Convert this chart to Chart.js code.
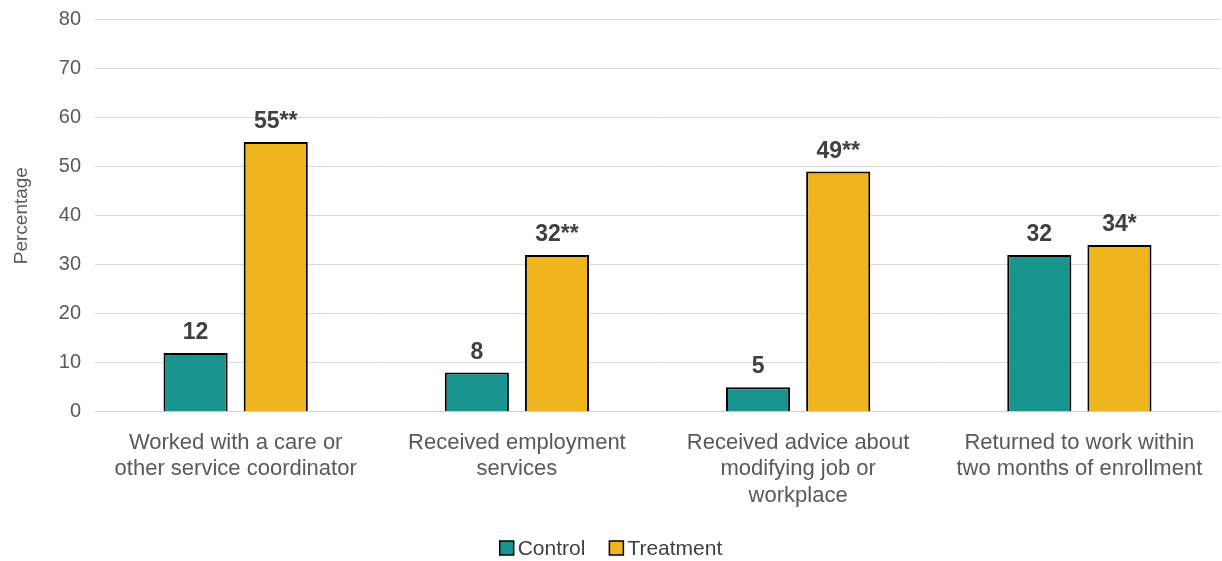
<!DOCTYPE html>
<html>
<head>
<meta charset="utf-8">
<script src="https://cdn.jsdelivr.net/npm/chart.js@4"></script>
<style>
  body { margin: 0; background: #fff; overflow: hidden; }
  #wrap { width: 1222px; height: 561px; overflow: hidden; position: relative; }
  #myChart { position: absolute; left: 0; top: -4px; }
</style>
</head>
<body>
<div id="wrap"><canvas id="myChart" width="1222" height="565"></canvas></div>
<script>
const categories = [
  ['Worked with a care or', 'other service coordinator'],
  ['Received employment', 'services'],
  ['Received advice about', 'modifying job or', 'workplace'],
  ['Returned to work within', 'two months of enrollment']
]
const control = [12, 8, 5, 32]
const treatment = [55, 32, 49, 34]
const controlLabels = ['12', '8', '5', '32']
const treatmentLabels = ['55**', '32**', '49**', '34*']

const FONT = '"Liberation Sans", Arial, sans-serif'

// draws the numbers above each bar
const barLabels = {
  id: 'barLabels',
  afterDatasetsDraw(chart) {
    const ctx = chart.ctx
    ctx.save()
    ctx.font = 'bold 23px ' + FONT
    ctx.fillStyle = '#404040'
    ctx.textAlign = 'center'
    ctx.textBaseline = 'alphabetic'
    chart.data.datasets.forEach((ds, i) => {
      const meta = chart.getDatasetMeta(i)
      meta.data.forEach((bar, j) => {
        ctx.fillText(ds.labelsText[j], bar.x, bar.y - 14)
      })
    })
    ctx.restore()
  }
}

// legend at the bottom, closer spacing than the built-in one
const bottomLegend = {
  id: 'bottomLegend',
  afterDraw(chart) {
    const ctx = chart.ctx
    ctx.save()
    ctx.font = '21px ' + FONT
    ctx.textBaseline = 'middle'
    const y = 552
    const box = 14, gapText = 4, gapItem = 24
    const items = chart.data.datasets.map(ds => ({ text: ds.label, color: ds.backgroundColor }))
    let total = 0
    items.forEach((it, i) => {
      it.w = ctx.measureText(it.text).width
      total += box + gapText + it.w + (i < items.length - 1 ? gapItem : 0)
    })
    let x = chart.width / 2 - total / 2
    items.forEach(it => {
      ctx.fillStyle = it.color
      ctx.fillRect(x, y - box / 2, box, box)
      ctx.strokeStyle = '#000'
      ctx.lineWidth = 1.5
      ctx.strokeRect(x, y - box / 2, box, box)
      ctx.fillStyle = '#404040'
      ctx.fillText(it.text, x + box + gapText, y + 1)
      x += box + gapText + it.w + gapItem
    })
    ctx.restore()
  }
}

new Chart(document.getElementById('myChart'), {
  type: 'bar',
  data: {
    labels: categories,
    datasets: [{
      label: 'Control',
      data: control,
      labelsText: controlLabels,
      backgroundColor: '#19948F',
      borderColor: '#000',
      borderWidth: 2,
      borderSkipped: 'bottom',
      barPercentage: 0.8,
      categoryPercentage: 0.57
    }, {
      label: 'Treatment',
      data: treatment,
      labelsText: treatmentLabels,
      backgroundColor: '#F0B51E',
      borderColor: '#000',
      borderWidth: 2,
      borderSkipped: 'bottom',
      barPercentage: 0.8,
      categoryPercentage: 0.57
    }]
  },
  options: {
    responsive: false,
    animation: false,
    layout: { padding: { left: 6, right: 2, top: 0, bottom: 42 } },
    plugins: {
      tooltip: { enabled: false },
      legend: { display: false }
    },
    scales: {
      x: {
        grid: { display: false },
        border: { color: '#d0d0d0', width: 1 },
        ticks: {
          color: '#595959',
          font: { size: 22, family: FONT, lineHeight: 1.2 },
          maxRotation: 0,
          autoSkip: false,
          padding: 10
        }
      },
      y: {
        min: 0,
        max: 80,
        ticks: {
          stepSize: 10,
          color: '#595959',
          font: { size: 20, family: FONT, lineHeight: 0.95 },
          padding: 14
        },
        grid: { color: '#d9d9d9', drawTicks: false },
        border: { display: false },
        title: {
          display: true,
          text: 'Percentage',
          color: '#595959',
          font: { size: 19, family: FONT },
          padding: { top: 4, bottom: 12 }
        }
      }
    }
  },
  plugins: [barLabels, bottomLegend]
})
</script>
</body>
</html>
